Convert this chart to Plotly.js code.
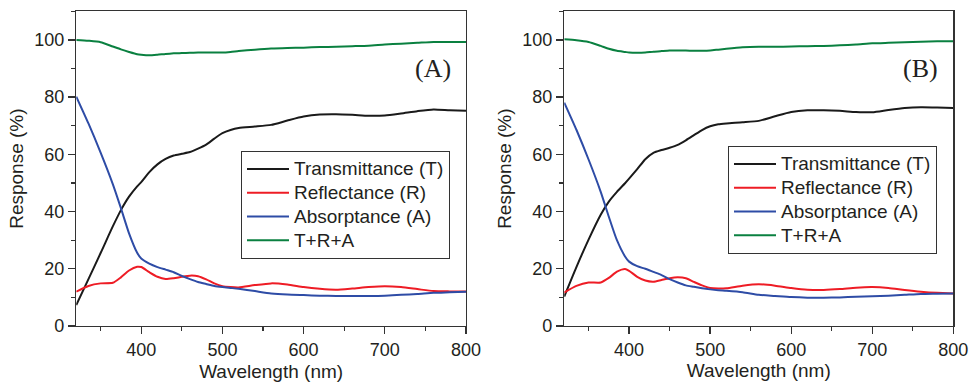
<!DOCTYPE html>
<html>
<head>
<meta charset="utf-8">
<script src="https://cdn.plot.ly/plotly-3.0.1.min.js"></script>
<style>html,body{margin:0;padding:0;background:#fff;}#chart{width:969px;height:382px;}</style>
</head>
<body>
<div id="chart"></div>
<script>
// Wavelength grid (nm)
const wavelength = [320,335,350,365,375,385,395,400,410,420,430,440,450,460,470,480,490,500,510,520,540,560,580,600,620,640,660,680,700,720,740,760,780,800];

// Panel (A)
const T_A   = [7.3,16.4,25.5,34.8,40.5,45.2,48.8,50.3,53.8,56.5,58.4,59.6,60.2,60.8,62.0,63.4,65.5,67.4,68.5,69.2,69.7,70.3,71.8,73.2,73.9,74.0,73.8,73.5,73.6,74.3,75.1,75.7,75.4,75.2];
const R_A   = [12.0,14.0,14.9,15.1,17.0,19.4,20.7,20.6,18.8,17.2,16.4,16.7,17.2,17.6,17.4,16.3,14.9,13.9,13.6,13.5,14.3,14.9,14.5,13.6,13.0,12.7,13.1,13.6,13.9,13.6,12.9,12.2,12.1,12.1];
const A_A   = [80.2,70.8,60.6,49.6,41.2,32.4,25.6,23.6,21.8,20.6,19.7,18.8,17.5,16.4,15.4,14.7,14.0,13.6,13.3,13.0,12.2,11.4,11.0,10.8,10.6,10.5,10.5,10.5,10.6,10.9,11.2,11.6,11.8,12.0];
const TRA_A = [100.0,99.7,99.2,97.7,96.7,95.8,95.0,94.8,94.6,94.8,95.1,95.3,95.4,95.5,95.6,95.6,95.6,95.6,95.8,96.1,96.6,97.0,97.2,97.3,97.5,97.6,97.8,98.0,98.4,98.7,99.0,99.3,99.3,99.3];

// Panel (B)
const T_B   = [10.3,20.6,30.2,38.9,43.5,46.9,49.9,51.5,54.8,58.3,60.5,61.5,62.3,63.3,64.9,66.7,68.5,69.8,70.5,70.8,71.2,71.7,73.3,74.8,75.4,75.4,75.2,74.8,74.7,75.5,76.2,76.5,76.4,76.2];
const R_B   = [11.7,14.0,15.2,15.2,16.8,19.0,19.9,19.3,17.2,15.9,15.5,16.1,16.7,17.0,16.7,15.4,14.2,13.3,13.1,13.2,14.1,14.6,14.1,13.3,12.7,12.6,12.9,13.4,13.6,13.3,12.6,12.0,11.6,11.4];
const A_B   = [78.1,68.6,58.2,46.9,38.2,30.0,24.3,22.5,20.9,20.0,18.9,17.8,16.4,15.2,14.2,13.7,13.2,12.8,12.5,12.3,11.8,10.9,10.5,10.1,9.9,9.9,10.0,10.2,10.4,10.6,10.9,11.2,11.3,11.4];
const TRA_B = [100.2,99.9,99.3,97.9,96.9,96.2,95.8,95.6,95.5,95.6,95.9,96.1,96.3,96.3,96.3,96.2,96.2,96.3,96.6,96.9,97.4,97.6,97.6,97.7,97.8,97.9,98.1,98.4,98.8,99.0,99.2,99.4,99.5,99.5];

const seriesNames = ["Transmittance (T)","Reflectance (R)","Absorptance (A)","T+R+A"];
const panelLabels = ["(A)","(B)"];
const xTickVals = [400,500,600,700,800];

const colors = ["#1a1a1a","#ee1c25","#2e4ca6","#0a8040"];
const FONT = "Liberation Sans, Arial, sans-serif";
const TXT = "#231f20";

function mk(y, i, xa, ya, leg) {
  return {x: wavelength, y: y, name: '<span style="font-size:19px">' + seriesNames[i] + '</span>',
    type: "scatter", mode: "lines",
    xaxis: xa, yaxis: ya, legend: leg,
    line: {color: colors[i], width: 2, shape: "spline", smoothing: 0.6}};
}
const data = [
  mk(T_A,0,"x","y","legend"), mk(R_A,1,"x","y","legend"), mk(A_A,2,"x","y","legend"), mk(TRA_A,3,"x","y","legend"),
  mk(T_B,0,"x2","y2","legend2"), mk(R_B,1,"x2","y2","legend2"), mk(A_B,2,"x2","y2","legend2"), mk(TRA_B,3,"x2","y2","legend2")
];

function xax(dom, anchor, standoff) {
  return {domain: dom, anchor: anchor, range: [320,800], tickvals: xTickVals,
    ticks: "outside", ticklen: 7, tickwidth: 1.3, tickcolor: "#333",
    minor: {dtick: 50, tick0: 0, ticks: "outside", ticklen: 4, tickwidth: 1.2, tickcolor: "#333"},
    showline: true, mirror: true, linecolor: "#333", linewidth: 1.4,
    showgrid: false, zeroline: false, automargin: false,
    tickfont: {family: FONT, size: 18, color: TXT},
    title: {text: "Wavelength (nm)", font: {family: FONT, size: 19, color: TXT}, standoff: standoff}};
}
function yax(anchor) {
  return {domain: [0.1466, 0.9704], anchor: anchor, range: [0,110], dtick: 20, tick0: 0,
    ticks: "outside", ticklen: 7, tickwidth: 1.3, tickcolor: "#333",
    minor: {dtick: 10, tick0: 0, ticks: "outside", ticklen: 4, tickwidth: 1.2, tickcolor: "#333"},
    showline: true, mirror: true, linecolor: "#333", linewidth: 1.4,
    showgrid: false, zeroline: false, automargin: false,
    tickfont: {family: FONT, size: 18, color: TXT},
    title: {text: "Response (%)", font: {family: FONT, size: 19, color: TXT}, standoff: 5}};
}
function leg(x, y) {
  return {x: x, y: y, xanchor: "left", yanchor: "top", bgcolor: "rgba(255,255,255,0)",
    bordercolor: "#333", borderwidth: 1, font: {family: FONT, size: 16, color: TXT},
    itemwidth: 42, tracegroupgap: 0};
}

const layout = {
  width: 969, height: 382,
  margin: {l: 0, r: 0, t: 0, b: 0},
  paper_bgcolor: "#fff", plot_bgcolor: "#fff",
  showlegend: true,
  xaxis: xax([0.0787, 0.4809], "y", 9),
  yaxis: yax("x"),
  xaxis2: xax([0.5823, 0.9838], "y2", 4),
  yaxis2: yax("x2"),
  legend: leg(241/969, 1 - 151/382),
  legend2: leg(728/969, 1 - 146/382),
  annotations: [
    {xref: "x", yref: "y", x: 759, y: 90, text: panelLabels[0], showarrow: false, xanchor: "center", yanchor: "middle",
     font: {family: "Liberation Serif, Times New Roman, serif", size: 26, color: TXT}},
    {xref: "x2", yref: "y2", x: 760, y: 90, text: panelLabels[1], showarrow: false, xanchor: "center", yanchor: "middle",
     font: {family: "Liberation Serif, Times New Roman, serif", size: 26, color: TXT}}
  ]
};

Plotly.newPlot("chart", data, layout, {staticPlot: true, displayModeBar: false});
</script>
</body>
</html>
